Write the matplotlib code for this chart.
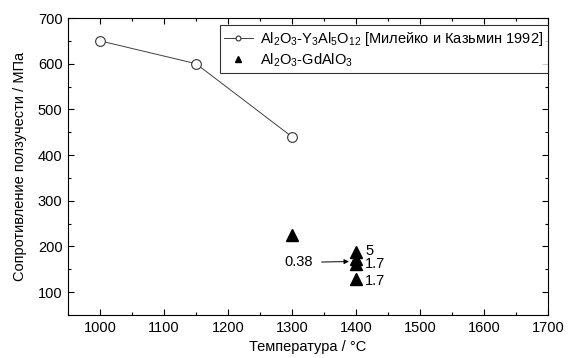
import matplotlib
matplotlib.use("Agg")
import matplotlib.pyplot as plt
from matplotlib.ticker import MultipleLocator

plt.rcParams['font.family'] = ['Liberation Sans', 'DejaVu Sans']
plt.rcParams['mathtext.fontset'] = 'custom'
plt.rcParams['mathtext.rm'] = 'Liberation Sans'
plt.rcParams['mathtext.it'] = 'Liberation Sans'

# Series 1: Al2O3-Y3Al5O12 [Милейко и Казьмин 1992]
yag_temp = [1000, 1150, 1300]
yag_stress = [650, 600, 440]

# Series 2: Al2O3-GdAlO3
gd_temp = [1300, 1400, 1400, 1400, 1400]
gd_stress = [224, 188, 173, 162, 128]

# Annotations
ann_labels = ["5", "1.7", "1.7"]
ann_y = [191, 161, 125]
arrow_label = "0.38"

FS = 10.5

fig = plt.figure(figsize=(5.68, 3.58), dpi=100)
ax = fig.add_axes([68/568, 1-315/358, (548-68)/568, (315-18)/358])

ax.plot(yag_temp, yag_stress, '-', color='#404040', lw=0.7, marker='o', ms=7,
        mfc='white', mec='#333333', mew=0.8,
        label=r'Al$_2$O$_3$-Y$_3$Al$_5$O$_{12}$ [Милейко и Казьмин 1992]')
ax.plot(gd_temp, gd_stress, linestyle='none', marker='^', ms=9, color='black',
        label=r'Al$_2$O$_3$-GdAlO$_3$')

for lab, yv in zip(ann_labels, ann_y):
    ax.text(1414, yv, lab, fontsize=FS, va='center', ha='left')

ax.annotate(arrow_label, xy=(1389, 167), xytext=(1311, 165),
            fontsize=FS, va='center', ha='center',
            arrowprops=dict(arrowstyle='-|>', color='black', lw=0.7,
                            shrinkA=4, shrinkB=0, mutation_scale=7))

ax.set_xlim(950, 1700)
ax.set_ylim(50, 700)
ax.xaxis.set_major_locator(MultipleLocator(100))
ax.xaxis.set_minor_locator(MultipleLocator(50))
ax.yaxis.set_major_locator(MultipleLocator(100))
ax.yaxis.set_minor_locator(MultipleLocator(50))
ax.tick_params(which='both', direction='in', top=True, right=True, labelsize=FS, width=0.8)
ax.tick_params(which='major', length=4, pad=4)
ax.tick_params(which='minor', length=2)
ax.set_yticks([100, 200, 300, 400, 500, 600, 700])
for s in ax.spines.values():
    s.set_linewidth(0.8)

ax.set_xlabel('Температура / °C', fontsize=FS, labelpad=4)
ax.set_ylabel('Сопротивление ползучести / МПа', fontsize=FS, labelpad=8)

leg = ax.legend(loc='upper right', bbox_to_anchor=(1.0, 0.975), fontsize=FS,
                frameon=True, fancybox=False, edgecolor='black', markerscale=0.5,
                handlelength=2.0, borderpad=0.3, labelspacing=0.25, handletextpad=0.5,
                borderaxespad=0)
leg.get_frame().set_linewidth(0.8)

fig.savefig('out.png', dpi=100)
